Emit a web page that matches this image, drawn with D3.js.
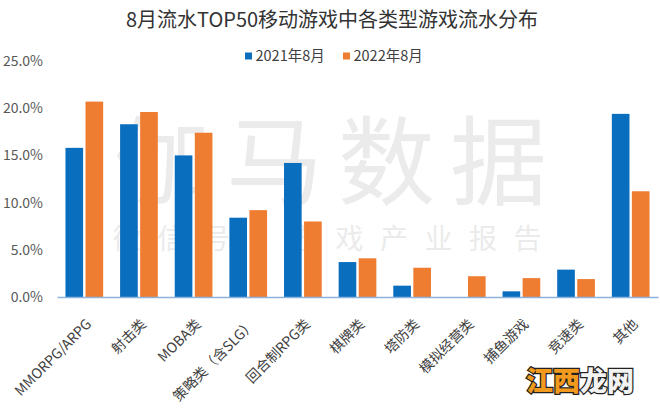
<!DOCTYPE html>
<html>
<head>
<meta charset="utf-8">
<script src="https://cdn.jsdelivr.net/npm/d3@7"></script>
<style>
  html, body { margin: 0; padding: 0; background: #fff; }
  svg { display: block; font-family: "Noto Sans CJK SC", "Noto Sans", sans-serif; }
</style>
</head>
<body>
<svg id="chart" width="660" height="411"></svg>
<script>
const categories = ["MMORPG/ARPG", "射击类", "MOBA类", "策略类（含SLG）", "回合制RPG类", "棋牌类", "塔防类", "模拟经营类", "捕鱼游戏", "竞速类", "其他"];
const seriesNames = ["2021年8月", "2022年8月"];
const values2021 = [15.8, 18.3, 15.0, 8.4, 14.2, 3.7, 1.2, 0, 0.6, 2.9, 19.4];
const values2022 = [20.7, 19.6, 17.4, 9.2, 8.0, 4.1, 3.1, 2.2, 2.0, 1.9, 11.2];
const yTicks = [0, 5, 10, 15, 20, 25];
const colors = ["#0a6ebf", "#ee7d31"];

const svg = d3.select("#chart");

// watermarks (behind bars)
svg.append("text")
  .attr("x", 114).attr("y", 197)
  .attr("font-size", 97).attr("letter-spacing", 15)
  .attr("fill", "#ebebeb")
  .text("伽马数据");
svg.append("text")
  .attr("x", 113).attr("y", 249)
  .attr("font-size", 28).attr("letter-spacing", 16.5)
  .attr("fill", "#ebebeb")
  .text("微信号：游戏产业报告");

const x0 = d3.scaleBand().domain(categories).range([57, 658]).paddingInner(0.31).paddingOuter(0.155);
const x1 = d3.scaleBand().domain(seriesNames).range([0, x0.bandwidth()]).paddingInner(0.12);
const y = d3.scaleLinear().domain([0, 25]).range([297, 61]);

// title
svg.append("text")
  .attr("x", 332).attr("y", 26.5)
  .attr("text-anchor", "middle")
  .attr("font-size", 20).attr("fill", "#333")
  .text("8月流水TOP50移动游戏中各类型游戏流水分布");

// legend
const legend = svg.append("g");
const legendX = [245, 343];
seriesNames.forEach((s, i) => {
  legend.append("rect").attr("x", legendX[i]).attr("y", 52.5).attr("width", 7).attr("height", 7).attr("fill", colors[i]);
  legend.append("text").attr("x", legendX[i] + 10.5).attr("y", 61)
    .attr("font-size", 14.5).attr("fill", "#404040").text(s);
});

// y axis
const yAxis = d3.axisLeft(y).tickValues(yTicks).tickSize(0).tickPadding(14)
  .tickFormat(d => d3.format(".1f")(d) + "%");
const yg = svg.append("g").attr("transform", "translate(57,0)").call(yAxis);
yg.select(".domain").remove();
yg.selectAll("text").attr("font-size", 14).attr("fill", "#595959")
  .style("font-family", "'Noto Sans CJK SC', sans-serif");

// bars
const data = categories.map((c, i) => ({ c, vals: [values2021[i], values2022[i]] }));
const groups = svg.append("g").selectAll("g").data(data).join("g")
  .attr("transform", d => `translate(${x0(d.c)},0)`);
groups.selectAll("rect").data(d => d.vals.map((v, i) => ({ v, s: seriesNames[i], i })))
  .join("rect")
  .attr("x", d => x1(d.s))
  .attr("y", d => y(d.v))
  .attr("width", x1.bandwidth())
  .attr("height", d => y(0) - y(d.v))
  .attr("fill", d => colors[d.i]);

// x axis
const xAxis = d3.axisBottom(x0).tickSize(0).tickSizeOuter(0);
const xg = svg.append("g").attr("transform", `translate(0,${y(0)})`).call(xAxis);
xg.select(".domain").attr("stroke", "#8db3dc").attr("stroke-width", 1.5);
xg.selectAll("text")
  .attr("font-size", 14).attr("fill", "#404040")
  .style("font-family", "'Noto Sans CJK SC', sans-serif")
  .attr("text-anchor", "end")
  .attr("y", 0).attr("dy", 0)
  .attr("transform", "translate(8,28) rotate(-45)");

// site watermark
const wm = svg.append("g").attr("font-size", 27).attr("font-weight", 900)
  .attr("stroke", "#222").attr("stroke-width", 2.5).attr("paint-order", "stroke");
wm.append("text").attr("x", 526).attr("y", 391).attr("fill", "#f29a1e").text("江西");
wm.append("text").attr("x", 580).attr("y", 391).attr("fill", "#f2f2f2").text("龙网");
</script>
</body>
</html>
